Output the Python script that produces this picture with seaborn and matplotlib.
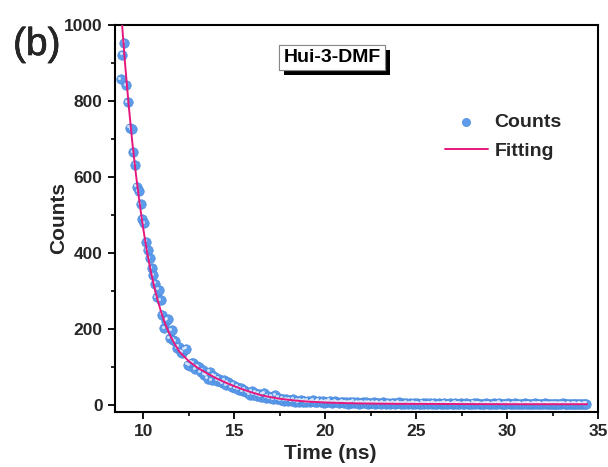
import numpy as np
import pandas as pd
import matplotlib
matplotlib.use("Agg")
import matplotlib.pyplot as plt
import seaborn as sns
from matplotlib import patheffects
from matplotlib.transforms import offset_copy
from matplotlib.ticker import MultipleLocator

# ---------------- data ----------------
t_start = 8.76   # ns, first channel
t_step = 0.1     # ns, channel width
counts = [
    857, 922, 953, 842, 797, 730, 726, 665, 632, 575,
    563, 528, 490, 478, 430, 408, 386, 360, 342, 320,
    284, 303, 276, 238, 202, 222, 226, 176, 197, 172,
    168, 150, 153, 140, 138, 146, 149, 106, 104, 112,
    110, 95, 102, 100, 86, 92, 80, 79, 70, 88,
    66, 78, 74, 64, 70, 62, 58, 66, 52, 60,
    55, 47, 53, 45, 48, 40, 44, 37, 41, 35,
    33, 28, 36, 27, 33, 25, 30, 22, 28, 31,
    20, 24, 18, 22, 16, 26, 15, 19, 13, 17,
    12, 16, 11, 14, 10, 15, 9, 12, 8, 13,
    9, 12, 8, 11, 7, 10, 13, 8, 9, 11,
    7, 10, 6, 9, 8, 11, 6, 8, 10, 7,
    5, 8, 9, 6, 7, 4, 8, 6, 9, 5,
    7, 4, 6, 8, 5, 7, 3, 6, 5, 8,
    4, 6, 5, 3, 7, 5, 4, 6, 3, 5,
    6, 4, 5, 7, 3, 5, 4, 6, 2, 5,
    4, 6, 3, 5, 4, 2, 6, 4, 5, 3,
    5, 3, 6, 4, 2, 5, 4, 3, 6, 4,
    3, 5, 2, 4, 6, 3, 4, 5, 2, 4,
    5, 3, 4, 2, 6, 3, 5, 4, 3, 2,
    4, 5, 3, 4, 2, 5, 3, 4, 6, 3,
    2, 4, 3, 5, 4, 2, 3, 5, 4, 3,
    4, 2, 5, 3, 4, 3, 2, 4, 5, 3,
    3, 4, 2, 5, 3, 4, 2, 3, 4, 3,
    4, 2, 3, 5, 3, 2, 4, 3, 2, 4,
    3, 2, 4, 3, 2, 3, 3,
]
fit_time = [8.70, 8.84, 9.0, 9.2, 9.4, 9.6, 9.8, 10.0, 10.2, 10.4, 10.6, 10.8,
            11.0, 11.2, 11.4, 11.7, 12.0, 12.5, 13.0, 13.5, 14.0, 14.5, 15.0,
            15.5, 16.0, 16.5, 17.0, 17.5, 18.0, 18.5, 19.0, 20.0, 21.0, 22.0,
            24.0, 27.0, 30.0, 34.4]
fit_counts = [1090, 1000, 900, 790, 692, 607, 532, 465, 406, 356, 312, 275,
              243, 215, 192, 163, 140, 116, 98, 84, 71, 60, 50,
              41, 33, 26, 21, 17, 14, 11.5, 9.5, 7, 5.5, 4.5,
              3.5, 3, 2.5, 2.5]
x_ticks = [10, 15, 20, 25, 30, 35]
y_ticks = [0, 200, 400, 600, 800, 1000]
sample_label = "Hui-3-DMF"
panel_label = "(b)"

time = t_start + t_step * np.arange(len(counts))
df = pd.DataFrame({"Time": time, "Counts": counts})
fit_df = pd.DataFrame({"Time": fit_time, "Counts": fit_counts})

# ---------------- style ----------------
sns.set_theme(style="white")
plt.rcParams["font.family"] = ["Liberation Sans", "DejaVu Sans"]

W, H = 608, 467
fig = plt.figure(figsize=(W / 100, H / 100), dpi=100)
L, R, T, B = 115, 598, 25, 412
ax = fig.add_axes([L / W, 1 - B / H, (R - L) / W, (B - T) / H])

sns.scatterplot(data=df, x="Time", y="Counts", ax=ax, s=46,
                color="#5c9cea", edgecolor="#4a8ade", linewidth=0.5,
                label="Counts", zorder=2)
hl = offset_copy(ax.transData, fig=fig, x=-1.1, y=1.1, units="points")
ax.scatter(df["Time"], df["Counts"], s=5, color="white", alpha=0.7,
           linewidths=0, transform=hl, zorder=3)
sns.lineplot(data=fit_df, x="Time", y="Counts", ax=ax, color="#e6187e",
             linewidth=1.4, label="Fitting", zorder=4)

ax.set_xlim(8.45, 35)
ax.set_ylim(-18, 1000)
ax.set_xticks(x_ticks)
ax.set_yticks(y_ticks)
ax.xaxis.set_minor_locator(MultipleLocator(2.5))
ax.yaxis.set_minor_locator(MultipleLocator(100))

for sp in ax.spines.values():
    sp.set_visible(True)
    sp.set_color("black")
    sp.set_linewidth(1.5)

ax.tick_params(axis="both", which="major", direction="out", length=5,
               width=1.3, color="black", labelsize=12.5, pad=4,
               bottom=True, left=True, top=False, right=False)
ax.tick_params(axis="both", which="minor", direction="out", length=3,
               width=1.2, color="black", bottom=True, left=True,
               top=False, right=False)
for lab in ax.get_xticklabels() + ax.get_yticklabels():
    lab.set_fontweight("bold")

ax.set_xlabel("Time (ns)", fontsize=15, fontweight="bold")
ax.set_ylabel("Counts", fontsize=15, fontweight="bold")
ax.xaxis.set_label_coords((330 - L) / (R - L), -0.083)
ax.yaxis.set_label_coords(-0.098, 0.5)

leg = ax.legend(loc="upper left", bbox_to_anchor=((445 - L) / (R - L), (B - 113) / (B - T)),
                frameon=False, borderaxespad=0, borderpad=0,
                handlelength=2.2, handletextpad=0.35, labelspacing=0.6,
                prop={"weight": "bold", "size": 14})
try:
    leg.legend_handles[0].set_sizes([34])
except Exception:
    pass

txt = ax.text((332 - L) / (R - L), (B - 57.5) / (B - T), sample_label,
              transform=ax.transAxes, ha="center", va="center",
              fontsize=14, fontweight="bold", color="black",
              bbox=dict(boxstyle="square,pad=0.22", fc="white", ec="#888888", lw=0.8),
              zorder=6)
txt.get_bbox_patch().set_path_effects([
    patheffects.withSimplePatchShadow(offset=(3.5, -3.5), shadow_rgbFace="black", alpha=1.0),
    patheffects.Normal()])

fig.text(13 / W, 1 - 45 / H, panel_label, fontsize=28, ha="left", va="center",
         path_effects=[patheffects.withStroke(linewidth=0.4, foreground="black")])

fig.savefig("out.png", dpi=100)
